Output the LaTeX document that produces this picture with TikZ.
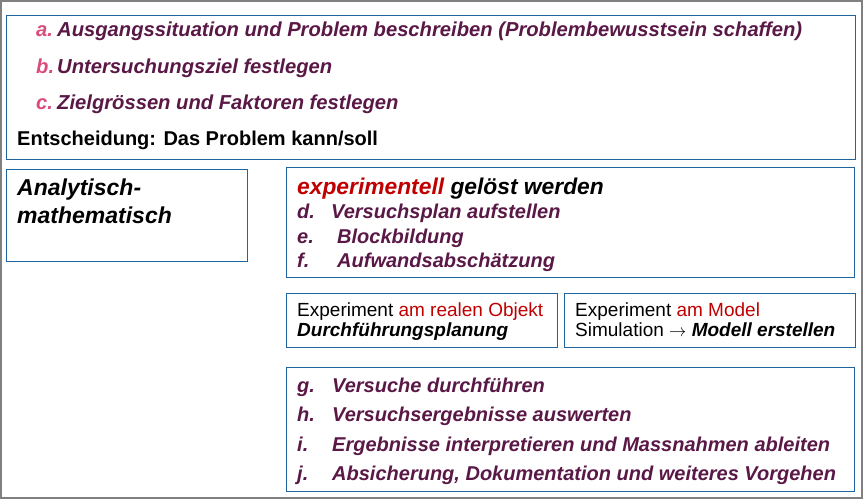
\documentclass[tikz,border=0pt]{standalone}
\usepackage{fontspec}
\setmainfont{Liberation Sans}
\usetikzlibrary{positioning}
\definecolor{framegray}{HTML}{808080}
\definecolor{boxblue}{HTML}{1F64A0}
\definecolor{itemplum}{HTML}{5A1846}
\definecolor{letterpink}{HTML}{D94C7D}
\definecolor{accentred}{HTML}{C00000}

\newcommand{\itemlabel}[2]{\makebox[#1][l]{#2}}

\begin{document}
\begin{tikzpicture}[x=1pt, y=-1pt,
  panel/.style={rectangle, draw=boxblue, line width=0.9pt, anchor=north west,
                inner sep=0pt},
  rowtext/.style={anchor=base west, inner sep=0pt, text=itemplum,
                  font=\fontsize{20.2}{24}\selectfont\bfseries\itshape},
  steptext/.style={rowtext, font=\fontsize{20}{24}\selectfont\bfseries\itshape},
  plaintext/.style={anchor=base west, inner sep=0pt, text=black,
                    font=\fontsize{19}{22}\selectfont},
]
  \useasboundingbox (0,0) rectangle (864,500);
  \draw[framegray, line width=2pt] (1,1) rectangle (862,498);

  % Boxes
  \node[panel, minimum width=849pt, minimum height=144pt] (problem) at (6,15) {};
  \node[panel, minimum width=241pt, minimum height=92pt] (analytic) at (6,169) {};
  \node[panel, minimum width=568pt, minimum height=110pt] (experim) at (286,167) {};
  \node[panel, minimum width=271pt, minimum height=54pt] (realobj) at (286,293) {};
  \node[panel, minimum width=291pt, minimum height=54pt] (modelobj) at (564,293) {};
  \node[panel, minimum width=568pt, minimum height=124pt] (steps) at (286,367) {};

  % Problem description
  \node[rowtext] (stepa) at (36,37) {\itemlabel{21pt}{\textcolor{letterpink}{a.}}Ausgangssituation und Problem beschreiben (Problembewusstsein schaffen)};
  \node[rowtext] (stepb) at (36,74) {\itemlabel{21pt}{\textcolor{letterpink}{b.}}Untersuchungsziel festlegen};
  \node[rowtext] (stepc) at (36,110) {\itemlabel{21pt}{\textcolor{letterpink}{c.}}Zielgrössen und Faktoren festlegen};
  \node[rowtext, text=black, font=\fontsize{20}{24}\selectfont\bfseries] (decide) at (17,146) {Entscheidung: Das Problem kann/soll};

  % Analytic branch
  \node[rowtext, text=black, font=\fontsize{23}{28}\selectfont\bfseries\itshape] (analyt1) at (17,195) {Analytisch-};
  \node[rowtext, text=black, font=\fontsize{23}{28}\selectfont\bfseries\itshape] (analyt2) at (17,223) {mathematisch};

  % Experimental branch
  \node[rowtext, text=black, font=\fontsize{22.8}{26}\selectfont\bfseries\itshape] (solved) at (297,194) {\textcolor{accentred}{experimentell} gelöst werden};
  \node[steptext] (stepd) at (297,218) {\itemlabel{34pt}{d.}Versuchsplan aufstellen};
  \node[steptext] (stepe) at (297,243) {\itemlabel{40pt}{e.}Blockbildung};
  \node[steptext] (stepf) at (297,267) {\itemlabel{40pt}{f.}Aufwandsabschätzung};

  % Real object / model
  \node[plaintext] (real1) at (297,316) {Experiment \textcolor{accentred}{am realen Objekt}};
  \node[plaintext, font=\fontsize{19}{22}\selectfont\bfseries\itshape] (real2) at (297,336) {Durchführungsplanung};
  \node[plaintext] (model1) at (575,316) {Experiment \textcolor{accentred}{am Model}};
  \node[plaintext] (model2) at (575,336) {Simulation $\rightarrow$ \textbf{\textit{Modell erstellen}}};

  % Execution steps
  \node[steptext] (stepg) at (297,392) {\itemlabel{35pt}{g.}Versuche durchführen};
  \node[steptext] (steph) at (297,421) {\itemlabel{35pt}{h.}Versuchsergebnisse auswerten};
  \node[steptext] (stepi) at (297,451) {\itemlabel{35pt}{i.}Ergebnisse interpretieren und Massnahmen ableiten};
  \node[steptext] (stepj) at (297,480) {\itemlabel{35pt}{j.}Absicherung, Dokumentation und weiteres Vorgehen};
\end{tikzpicture}
\end{document}
